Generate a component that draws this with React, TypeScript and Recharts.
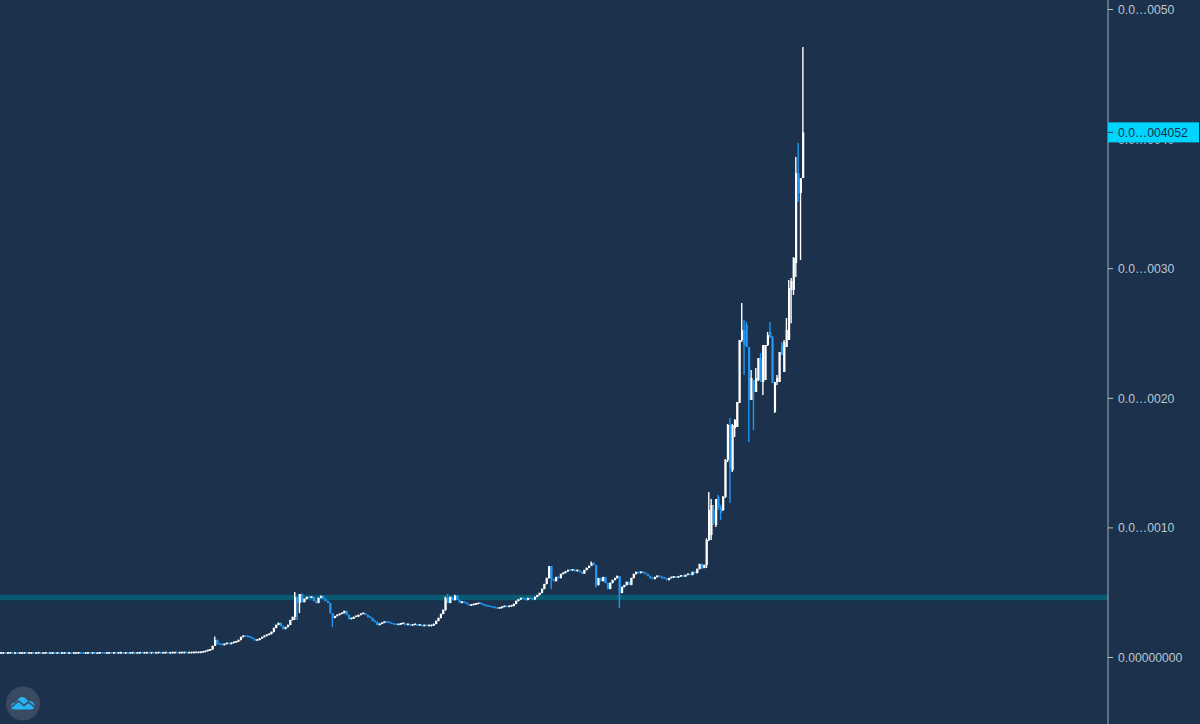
import React from "react";
import { ComposedChart, Bar, Cell, XAxis, YAxis, ReferenceLine } from "recharts";

const WIDTH = 1200;
const HEIGHT = 724;
const SLOT_COUNT = 471;
const UP = "#ffffff";
const DOWN = "#2196f3";
const BACKGROUND = "#1b314c";

const lastPrice = 4.052;
const axisTicks = [0, 1, 2, 3, 4, lastPrice, 5];
const tickLabels = ["0.00000000", "0.0…0010", "0.0…0020", "0.0…0030", "0.0…0040", "0.0…004052", "0.0…0050"];
const supportLevel = 0.463;

// Closing prices of the slow early part of the chart, one per candle.
const flatCloses = [
  0.03, 0.031, 0.03, 0.031, 0.031, 0.03, 0.031, 0.03, 0.03, 0.031, 0.031, 0.03, 0.03, 0.031, 0.03, 0.031,
  0.031, 0.03, 0.031, 0.031, 0.03, 0.03, 0.031, 0.03, 0.031, 0.03, 0.031, 0.031, 0.03, 0.031, 0.03, 0.03,
  0.031, 0.032, 0.031, 0.03, 0.031, 0.032, 0.031, 0.031, 0.03, 0.031, 0.032, 0.031, 0.03, 0.031, 0.032, 0.031,
  0.032, 0.031, 0.032, 0.032, 0.031, 0.032, 0.031, 0.032, 0.032, 0.031, 0.032, 0.033, 0.032, 0.032, 0.033, 0.032,
  0.033, 0.032, 0.033, 0.033, 0.032, 0.033, 0.033, 0.032, 0.033, 0.033, 0.034, 0.033, 0.033, 0.034, 0.034, 0.033,
  0.034, 0.034, 0.035, 0.035, 0.036, 0.039, 0.043,
];

const riseCloses = [
  0.05, 0.054, 0.062, 0.089, 0.135, 0.104, 0.1, 0.096, 0.104, 0.108, 0.104, 0.112, 0.116, 0.123, 0.135, 0.158,
  0.166, 0.162, 0.158, 0.154, 0.143, 0.131, 0.135, 0.147, 0.158, 0.166, 0.174, 0.181, 0.197, 0.228, 0.251, 0.267,
  0.243, 0.22, 0.235, 0.251, 0.289, 0.313, 0.467, 0.421, 0.49, 0.428, 0.452, 0.467, 0.46, 0.467, 0.436,
  0.421, 0.46, 0.475, 0.452, 0.436, 0.421, 0.343, 0.305, 0.32, 0.328, 0.336, 0.343, 0.359, 0.328, 0.297, 0.301,
  0.313, 0.316, 0.328, 0.336, 0.34, 0.328, 0.313, 0.305, 0.282, 0.274, 0.251, 0.259, 0.267, 0.274, 0.27, 0.267,
  0.259, 0.255, 0.251, 0.255, 0.259, 0.259, 0.251, 0.251, 0.247, 0.251, 0.251, 0.247, 0.247, 0.243, 0.247, 0.243,
  0.243, 0.247, 0.259, 0.282, 0.305, 0.336, 0.367, 0.46, 0.421, 0.467, 0.444, 0.478, 0.444, 0.421, 0.432, 0.421,
];

const plateauCloses = [
  0.413, 0.401, 0.405, 0.409, 0.413, 0.417, 0.413, 0.405, 0.397, 0.394, 0.39, 0.386, 0.382, 0.378, 0.382, 0.39,
  0.394, 0.39, 0.394, 0.397, 0.413, 0.436, 0.448, 0.459, 0.452, 0.444, 0.459, 0.452, 0.448, 0.467, 0.482, 0.498,
  0.529, 0.567, 0.613, 0.706, 0.606, 0.59, 0.621, 0.613, 0.644, 0.652, 0.664, 0.675, 0.671, 0.675, 0.667, 0.671,
  0.66, 0.648, 0.675, 0.691, 0.706, 0.729, 0.714, 0.559, 0.613, 0.59, 0.621, 0.575, 0.529, 0.575, 0.598, 0.613,
  0.629, 0.498, 0.544, 0.559, 0.583, 0.56, 0.613, 0.644, 0.66, 0.652, 0.66, 0.652, 0.644, 0.629, 0.613, 0.606,
  0.621, 0.629, 0.621, 0.613, 0.61, 0.598, 0.613, 0.617, 0.621, 0.617, 0.625, 0.629, 0.625, 0.637, 0.64, 0.637,
  0.66, 0.652, 0.683, 0.721, 0.691, 0.714,
];

// Long wicks in the early part: [candle number, high, low]
const earlyWicks: [number, number, number][] = [
  [91, 0.162, 0.09], [125, 0.505, 0.289], [126, 0.467, 0.289], [127, 0.49, 0.343], [141, 0.343, 0.235],
  [189, 0.47, 0.36], [190, 0.49, 0.42], [193, 0.485, 0.44], [233, 0.706, 0.61], [234, 0.706, 0.529],
  [251, 0.74, 0.72], [252, 0.735, 0.71], [253, 0.714, 0.54], [263, 0.629, 0.382], [298, 0.725, 0.68],
];

// The final rally: every candle has its own open, close, high and low.
const rallyOpens = [
  0.714, 0.907, 0.945, 1.138, 1.022, 1.238, 1.161, 1.138, 1.238, 1.524, 1.794, 1.447, 1.771, 1.779, 1.964, 2.45,
  2.527, 2.566, 2.396, 1.987, 2.141, 2.049, 2.141, 2.311, 2.126, 2.141, 2.411, 2.512, 2.473, 1.894, 2.126, 2.126,
  2.411, 2.203, 2.396, 2.45, 2.836, 2.836, 3.044, 3.738, 3.584, 3.7,
];
const rallyCloses = [
  0.907, 1.138, 1.177, 1.038, 1.223, 1.154, 1.115, 1.238, 1.524, 1.794, 1.462, 1.794, 1.833, 1.971, 2.45, 2.527,
  2.411, 2.396, 1.987, 2.157, 2.049, 2.157, 2.311, 2.126, 2.411, 2.411, 2.488, 2.473, 2.118, 2.126, 2.157, 2.357,
  2.334, 2.434, 2.527, 2.851, 2.905, 3.083, 3.738, 3.584, 3.7, lastPrice,
];
const rallyHighs = [
  0.92, 1.277, 1.223, 1.177, 1.223, 1.254, 1.177, 1.246, 1.532, 1.802, 1.848, 1.802, 1.84, 1.971, 2.45, 2.735,
  2.604, 2.589, 2.396, 2.218, 2.141, 2.234, 2.311, 2.35, 2.411, 2.411, 2.512, 2.589, 2.481, 2.126, 2.18, 2.357,
  2.434, 2.45, 2.62, 2.913, 2.928, 3.09, 3.862, 3.97, 3.7, 4.711,
];
const rallyLows = [
  0.691, 0.899, 0.907, 1.022, 1.007, 1.138, 1.061, 1.13, 1.231, 1.508, 1.192, 1.431, 1.701, 1.779, 1.964, 2.434,
  2.18, 2.396, 1.663, 1.987, 1.755, 2.049, 2.133, 2.126, 2.025, 2.141, 2.404, 2.465, 2.118, 1.887, 2.103, 2.126,
  2.334, 2.203, 2.396, 2.45, 2.58, 2.797, 2.936, 3.515, 3.067, 3.7,
];

const earlyCloses = [...flatCloses, ...riseCloses, ...plateauCloses];

type Row = { slot: number; wick: [number, number] | null; body: [number, number] | null; up: boolean };

const rows: Row[] = [];
earlyCloses.forEach((close, i) => {
  const open = i === 0 ? close : earlyCloses[i - 1];
  const wickEntry = earlyWicks.find((w) => w[0] === i);
  const high = wickEntry ? wickEntry[1] : Math.max(open, close) + 0.003;
  const low = wickEntry ? wickEntry[2] : Math.min(open, close) - 0.003;
  rows.push({ slot: i, wick: [low, high], body: [Math.min(open, close), Math.max(open, close)], up: close >= open });
});
rallyOpens.forEach((open, i) => {
  const close = rallyCloses[i];
  rows.push({
    slot: earlyCloses.length + i,
    wick: [rallyLows[i], rallyHighs[i]],
    body: [Math.min(open, close), Math.max(open, close)],
    up: close >= open,
  });
});
while (rows.length < SLOT_COUNT) {
  rows.push({ slot: rows.length, wick: null, body: null, up: true });
}

const FONT = "Liberation Sans, Arial, sans-serif";

// The price tag is drawn by the axis itself, straight after the tick it partly covers.
const AxisTick = (props: any) => {
  const { x, y, payload } = props;
  const label = tickLabels[axisTicks.indexOf(payload.value)] ?? "";
  if (payload.value === lastPrice) {
    return (
      <g>
        <rect x={x - 5} y={y - 10} width={91} height={20} fill="#00d5ff" />
        <line x1={x - 5} x2={x} y1={y} y2={y} stroke="#1b314c" />
        <text x={x + 5} y={y + 4.5} fontFamily={FONT} fontSize={12.2} fill="#14304a">
          {label}
        </text>
      </g>
    );
  }
  return (
    <text x={x + 5} y={y + 4.5} fontFamily={FONT} fontSize={12.2} fill="#bcc7d3">
      {label}
    </text>
  );
};

const Logo = () => (
  <svg width={46} height={46} style={{ position: "absolute", left: 0, top: 680 }}>
    <circle cx={23} cy={23.5} r={17} fill="#3a4a63" />
    <path
      d="M12 29 C9.5 25 13 22 16 22.5 C18 18 21 16 24 17.5 C26 18.5 27 20 28.5 21 C32 20.5 35 23.5 34.5 26.5 C34.3 28.5 33 29.5 31 29.5 L14 29.5 Z"
      fill="#25b4f6"
    />
    <path d="M11.5 27 L18.5 21 L24 25.5 L28.5 22 L35 27.5" fill="none" stroke="#3a4a63" strokeWidth={1.6} />
  </svg>
);

export default function App() {
  return (
    <div style={{ position: "absolute", left: 0, top: 0, width: WIDTH, height: HEIGHT, background: BACKGROUND, overflow: "hidden" }}>
      <ComposedChart width={WIDTH} height={HEIGHT} data={rows} margin={{ top: 0, right: 0, bottom: 0, left: 0 }} barCategoryGap={0}>
        <XAxis xAxisId="wicks" dataKey="slot" type="category" hide />
        <XAxis xAxisId="bodies" dataKey="slot" type="category" hide />
        <YAxis
          orientation="right"
          width={92}
          domain={[-0.5131, 5.0733]}
          allowDataOverflow
          ticks={axisTicks}
          interval={0}
          axisLine={{ stroke: "#9fadbe", strokeWidth: 1 }}
          tickLine={{ stroke: "#b6c1ce" }}
          tickSize={5}
          tickMargin={0}
          tick={<AxisTick />}
        />
        <ReferenceLine xAxisId="wicks" y={supportLevel} stroke="#0a5a72" strokeWidth={5.5} zIndex={50} />
        <Bar xAxisId="wicks" dataKey="wick" barSize={1.4} isAnimationActive={false}>
          {rows.map((r) => (
            <Cell key={r.slot} fill={r.up ? UP : DOWN} />
          ))}
        </Bar>
        <Bar xAxisId="bodies" dataKey="body" barSize={2.6} minPointSize={1.5} isAnimationActive={false}>
          {rows.map((r) => (
            <Cell key={r.slot} fill={r.up ? UP : DOWN} />
          ))}
        </Bar>
      </ComposedChart>
      <Logo />
    </div>
  );
}
